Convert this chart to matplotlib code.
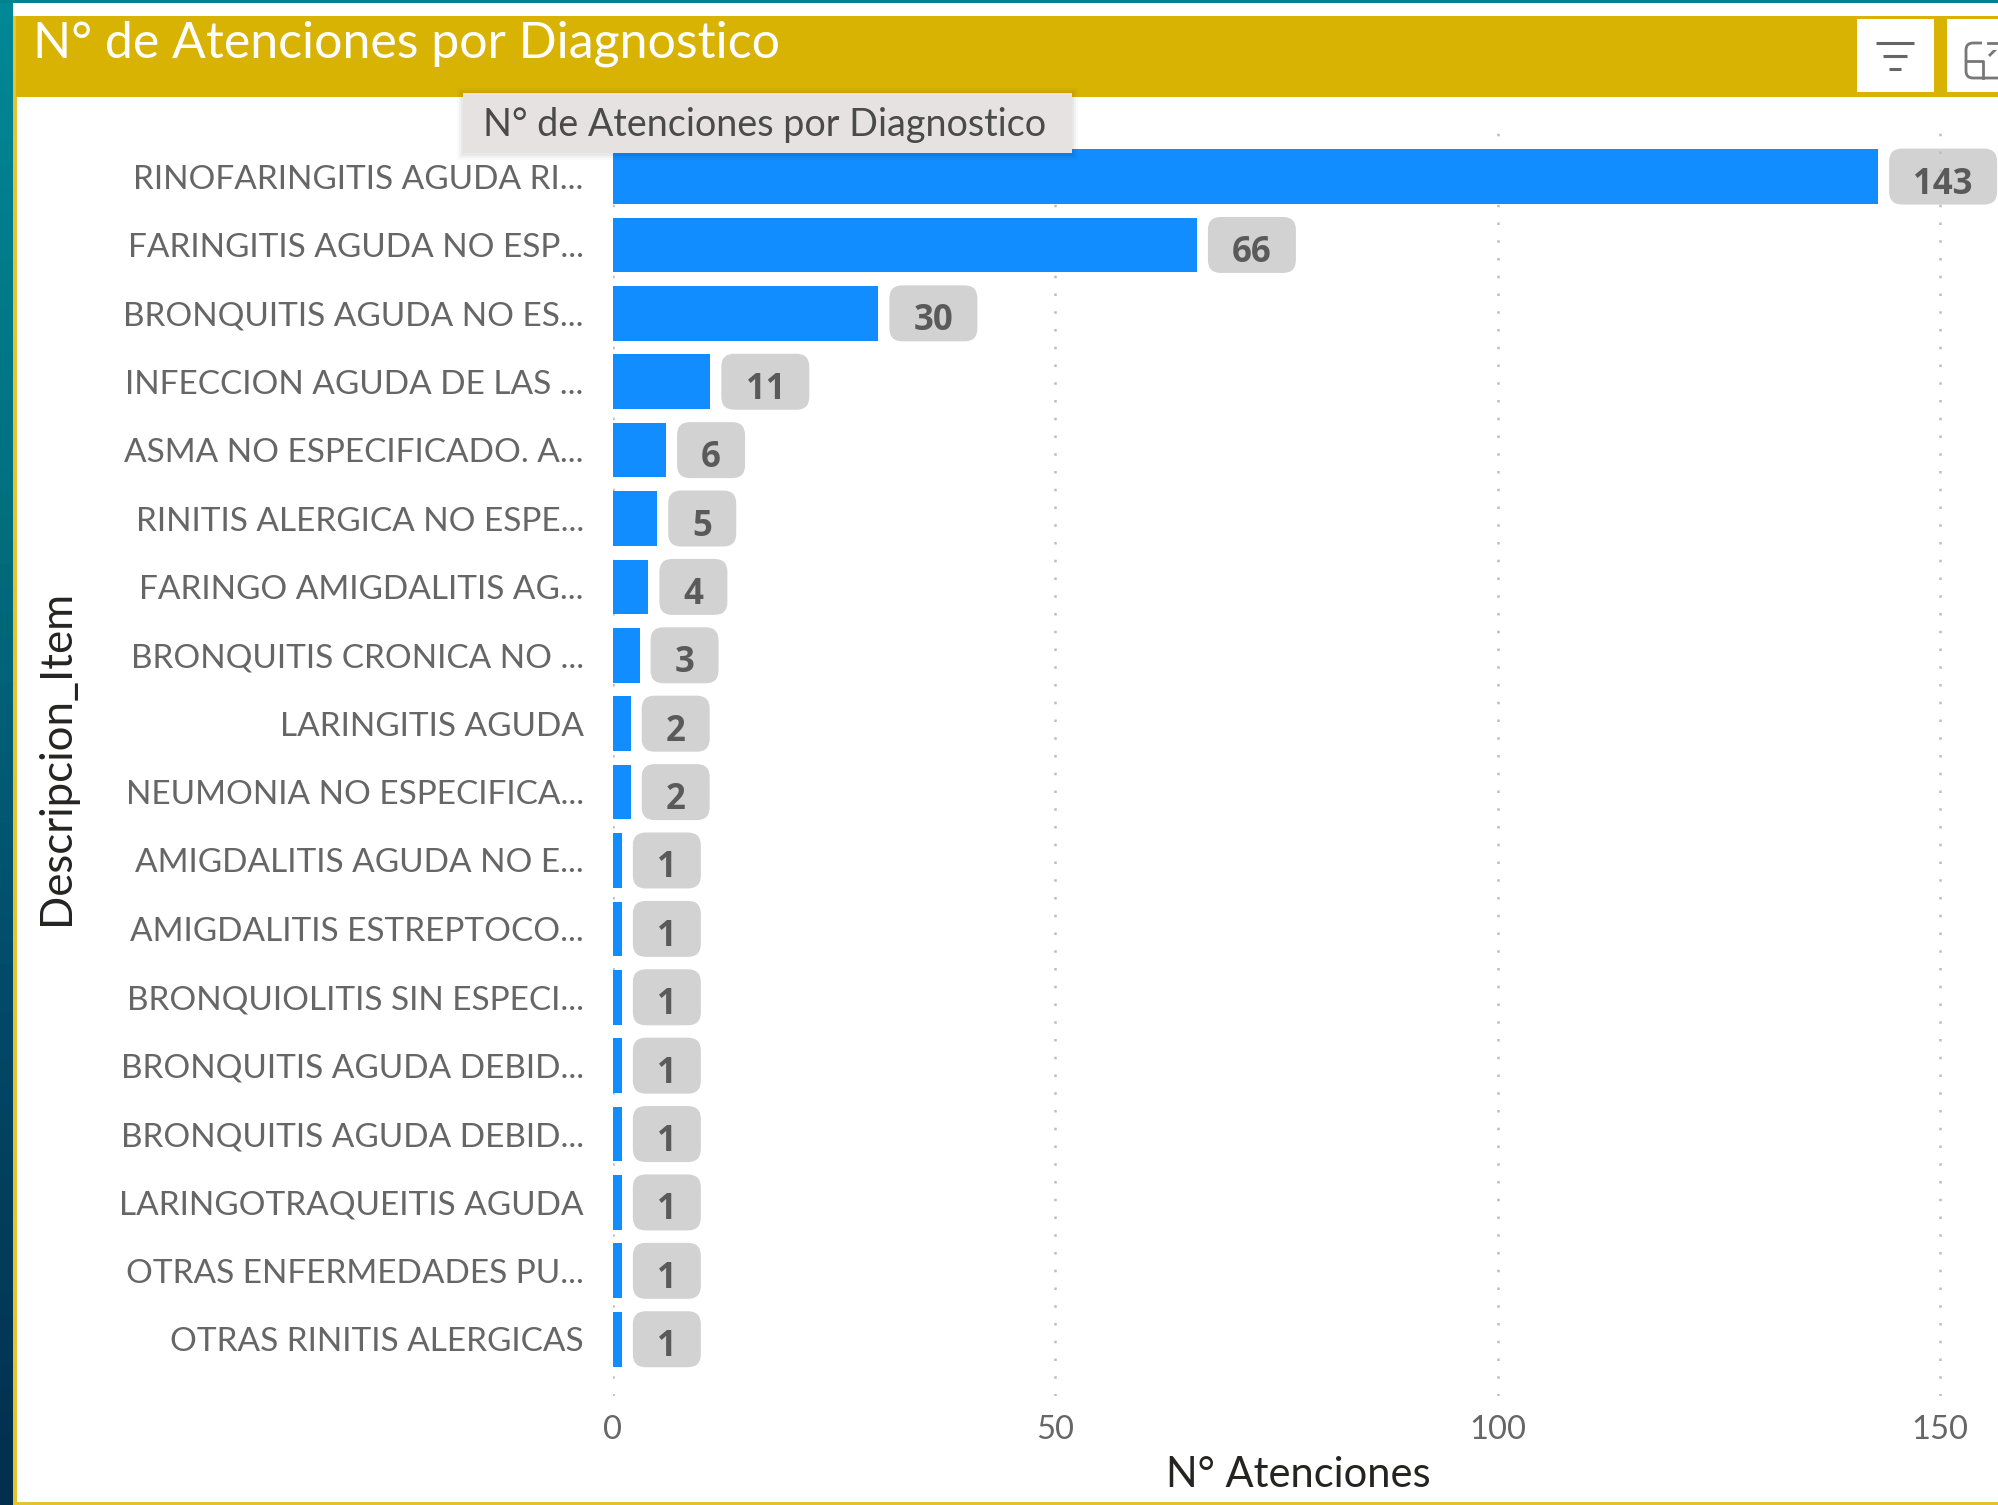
import matplotlib
matplotlib.use("Agg")
import matplotlib.pyplot as plt
import matplotlib.transforms as mtrans
from matplotlib.colors import LinearSegmentedColormap
from matplotlib.patches import FancyBboxPatch, Rectangle
import numpy as np

title = "N° de Atenciones por Diagnostico"
x_title = "N° Atenciones"
y_title = "Descripcion_Item"
diagnosticos = [
    "RINOFARINGITIS AGUDA RI...",
    "FARINGITIS AGUDA NO ESP...",
    "BRONQUITIS AGUDA NO ES...",
    "INFECCION AGUDA DE LAS ...",
    "ASMA NO ESPECIFICADO. A...",
    "RINITIS ALERGICA NO ESPE...",
    "FARINGO AMIGDALITIS AG...",
    "BRONQUITIS CRONICA NO ...",
    "LARINGITIS AGUDA",
    "NEUMONIA NO ESPECIFICA...",
    "AMIGDALITIS AGUDA NO E...",
    "AMIGDALITIS ESTREPTOCO...",
    "BRONQUIOLITIS SIN ESPECI...",
    "BRONQUITIS AGUDA DEBID...",
    "BRONQUITIS AGUDA DEBID...",
    "LARINGOTRAQUEITIS AGUDA",
    "OTRAS ENFERMEDADES PU...",
    "OTRAS RINITIS ALERGICAS",
]
atenciones = [143, 66, 30, 11, 6, 5, 4, 3, 2, 2, 1, 1, 1, 1, 1, 1, 1, 1]
x_ticks = [0, 50, 100, 150]

W, H = 1999, 1505
YELLOW = "#D9B304"
BLUE = "#118DFF"
FONT = "Lato"

fig = plt.figure(figsize=(W / 100, H / 100), dpi=100, facecolor="white")

# frame, header and side strip, all in pixel coordinates
bg = fig.add_axes([0, 0, 1, 1], zorder=0)
bg.set_xlim(0, W)
bg.set_ylim(H, 0)
bg.axis("off")
strip = LinearSegmentedColormap.from_list("strip", ["#008896", "#00707f", "#024a68", "#022f4e"])
bg.imshow(np.linspace(0, 1, 64).reshape(-1, 1), cmap=strip, aspect="auto", extent=(0, 13, H, 0))
bg.set_xlim(0, W)
bg.set_ylim(H, 0)
bg.add_patch(Rectangle((0, 0), W, 3, color="#00828F", lw=0))
bg.add_patch(Rectangle((13, 16), 4, H - 16, color="#E3C42E", lw=0))
bg.add_patch(Rectangle((13, 1502), W, 3, color="#E3C42E", lw=0))
bg.add_patch(Rectangle((16, 16), W, 81, color=YELLOW, lw=0))
bg.add_patch(Rectangle((1857, 19), 77, 73, color="white", lw=0))
bg.add_patch(Rectangle((1947, 19), 60, 73, color="white", lw=0))
for y0, x0, x1 in [(43, 1876, 1914), (56, 1883, 1907), (69, 1889, 1901)]:
    bg.plot([x0, x1], [y0, y0], color="#666666", lw=2.2, solid_capstyle="butt")
bg.add_patch(FancyBboxPatch((1966, 43), 40, 35, boxstyle="round,pad=0,rounding_size=7",
                            fc="none", ec="#777777", lw=2))
bg.plot([1966, 1983, 1983], [61, 61, 78], color="#777777", lw=2)
bg.plot([1990, 1999], [55, 46], color="#777777", lw=2)
bg.add_patch(Rectangle((1982, 40), 20, 10, color="white", lw=0, zorder=3))
bg.plot([1988, 1999], [43, 43], color="#777777", lw=2, zorder=4)
bg.text(33, 44, title, color="white", fontsize=36, family=FONT, va="center", ha="left")

# chart: 0 at x=613, 8.847 px per unit, rows 68.4 px apart with the first at y=176.5
ax = fig.add_axes([613 / W, 1 - 1396 / H, (W - 613) / W, (1396 - 128) / H], zorder=1)
ax.patch.set_alpha(0)
ax.set_xlim(0, (W - 613) / 8.847)
ax.set_ylim(17.83, -0.71)
for s in ax.spines.values():
    s.set_visible(False)

pos = np.arange(len(atenciones))
ax.barh(pos, atenciones, height=0.8, color=BLUE, zorder=3)
ax.set_yticks(pos, diagnosticos)
ax.set_xticks(x_ticks, [str(t) for t in x_ticks])
ax.tick_params(axis="y", length=0, pad=21, labelsize=24, labelcolor="#666666")
ax.tick_params(axis="x", length=0, pad=14, labelsize=23.5, labelcolor="#666666")
for lab in ax.get_xticklabels() + ax.get_yticklabels():
    lab.set_family(FONT)
ax.grid(axis="x", color="#BDBDBD", lw=1.8, linestyle=(0, (1.0, 6.1)), zorder=2)
ax.set_axisbelow(False)
for line in ax.get_xgridlines():
    line.set_zorder(2)

fig.text(1298 / W, 1 - 1475 / H, x_title, fontsize=30, family=FONT, color="#252423",
         ha="center", va="center")
fig.text(57 / W, 1 - 757 / H, y_title, fontsize=31.5, family=FONT, color="#252423",
         rotation=90, ha="center", va="center")

# value badges, sized in pixels next to each bar end
for i, v in enumerate(atenciones):
    px, py = ax.transData.transform((v, i))
    box_w = 48 + 20 * len(str(v))
    to_px = mtrans.Affine2D().translate(px + 11, py)
    ax.add_patch(FancyBboxPatch((0, -28), box_w, 56, boxstyle="round,pad=0,rounding_size=13",
                                fc="#D2D2D2", ec="none", transform=to_px, zorder=1, clip_on=False))
    ax.text(px + 11 + box_w / 2, py - 8, str(v), transform=mtrans.IdentityTransform(),
            fontsize=25, family="Open Sans", fontweight="bold", color="#5A5A5A",
            ha="center", va="center", zorder=4)

# tooltip over the header
top = fig.add_axes([0, 0, 1, 1], zorder=2)
top.set_xlim(0, W)
top.set_ylim(H, 0)
top.axis("off")
for grow, alpha in [(6, 0.02), (4, 0.03), (2, 0.04)]:
    top.add_patch(Rectangle((463 - grow, 93 - grow + 1), 609 + 2 * grow, 60 + 2 * grow,
                            color="black", alpha=alpha, lw=0))
top.add_patch(Rectangle((463, 93), 609, 60, color="#E6E2E1", lw=0))
top.text(483, 125, title, color="#4A4A4A", fontsize=27.2, family=FONT, va="center", ha="left")

fig.savefig("out.png", dpi=100)
